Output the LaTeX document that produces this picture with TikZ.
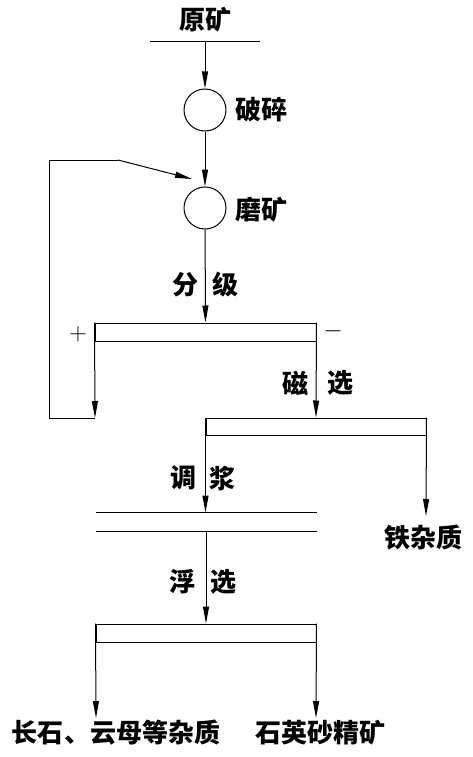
\documentclass[tikz,border=0pt]{standalone}
\usepackage{fontspec}
\newfontfamily\cjk{Noto Sans CJK SC}
\usetikzlibrary{arrows.meta}

\begin{document}
\begin{tikzpicture}[x=1pt,y=-1pt,line width=1pt,>={Triangle[length=17pt,width=6pt]},
   mill/.style={draw,shape=circle,minimum size=42pt,inner sep=0pt},
   tank/.style={draw,shape=rectangle,minimum width=220pt,minimum height=18pt,inner sep=0pt},
   word/.style={font=\cjk\bfseries\fontsize{26}{30}\selectfont,inner sep=0pt},
   sign/.style={font=\fontsize{24}{28}\selectfont,inner sep=0pt}]

   \useasboundingbox (0,0) rectangle (472,757);

     \path (205,20) node[word] (ore)  {原矿};
     \path (205,110) node[mill] (crush)  {};
     \path (261,110) node[word] (crushtxt)  {破碎};
     \path (205,208) node[mill] (grind)  {};
     \path (261,210) node[word] (grindtxt)  {磨矿};
     \path (205.5,332) node[tank,minimum width=221pt] (cls)  {};
     \path (185,285) node[word] (clsa)  {分};
     \path (225,285) node[word] (clsb)  {级};
     \path (78,334) node[sign] (plus)  {$+$};
     \path (333,331) node[sign] (minus)  {$-$};
     \path (316,426.5) node[tank,minimum height=17pt] (mag)  {};
     \path (295,383) node[word] (maga)  {磁};
     \path (340,383) node[word] (magb)  {选};
     \path (206,522) node[minimum width=220pt,minimum height=18pt,inner sep=0pt] (cond)  {};
     \path (183,478) node[word] (conda)  {调};
     \path (222,478) node[word] (condb)  {浆};
     \path (423,538) node[word] (iron)  {铁杂质};
     \path (206,633) node[tank] (flot)  {};
     \path (182,582) node[word] (flota)  {浮};
     \path (223,582) node[word] (flotb)  {选};
     \path (116,733) node[word] (tail)  {长石、云母等杂质};
     \path (320,733) node[word] (conc)  {石英砂精矿};

     \coordinate (feedL) at (150,42);
     \coordinate (feed) at (205,42);
     \coordinate (feedR) at (260,42);
     \coordinate (back) at (95,418);
     \coordinate (backa) at (49,418);
     \coordinate (backb) at (49,160);
     \coordinate (backc) at (118,160);
     \coordinate (backd) at (192,179);
     \coordinate (ironin) at (426,516);
     \coordinate (tailin) at (96,718);
     \coordinate (concin) at (316,718);

      \draw (feedL)  -- (feedR);
      \draw[->] (feed)  -- (crush);
      \draw[->] (crush)  -- (grind);
      \draw[->] (grind)  -- (cls);
      \draw[->] (cls.north west)  -- (back);
      \draw (back) -- (backa) -- (backb) -- (backc);
      \draw[->] (backc) -- (backd);
      \draw[->] (cls.north east)  -- (mag.north);
      \draw[->] (mag.north west)  -- (mag.north west |- cond.north);
      \draw[->] (mag.north east)  -- (ironin);
      \draw (cond.north west)  -- (cond.north east);
      \draw (cond.south west)  -- (cond.south east);
      \draw[->] (cond.south)  -- (flot.north);
      \draw[->] (flot.north west)  -- (tailin);
      \draw[->] (flot.north east)  -- (concin);

   \end{tikzpicture}
\end{document}
